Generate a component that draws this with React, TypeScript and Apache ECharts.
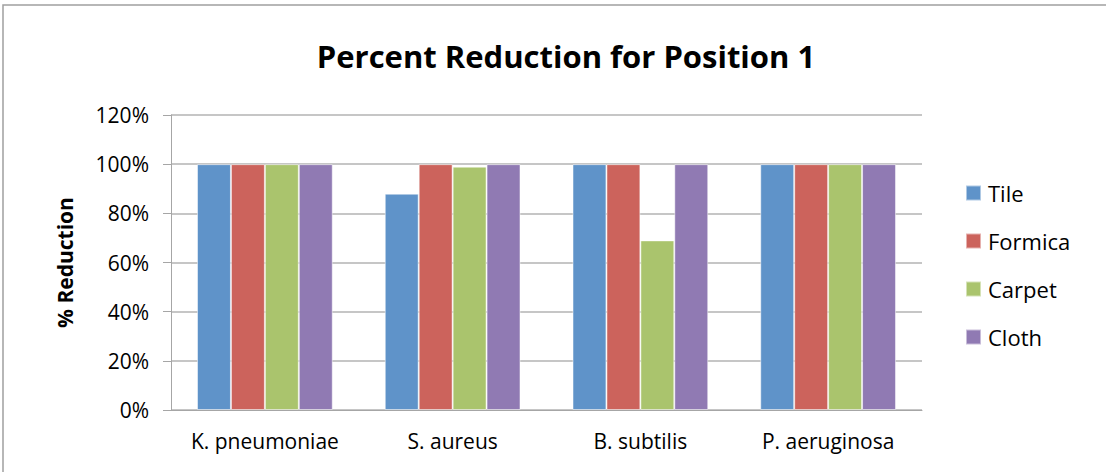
import React, { useEffect, useRef } from "react";
import * as echarts from "echarts";

const categories = ["K. pneumoniae", "S. aureus", "B. subtilis", "P. aeruginosa"];
const seriesNames = ["Tile", "Formica", "Carpet", "Cloth"];
const tileValues = [100, 88, 100, 100];
const formicaValues = [100, 100, 100, 100];
const carpetValues = [100, 99, 69, 100];
const clothValues = [100, 100, 100, 100];
const colors = ["#5f93c9", "#cc635c", "#aac46d", "#907ab3"];

export default function App() {
  const ref = useRef<HTMLDivElement>(null);
  useEffect(() => {
    const chart = echarts.init(ref.current!, null, { renderer: "svg" });
    const data = [tileValues, formicaValues, carpetValues, clothValues];
    chart.setOption({
      animation: false,
      backgroundColor: "#ffffff",
      textStyle: { fontFamily: "Open Sans" },
      title: {
        text: "Percent Reduction for Position 1",
        left: 561,
        top: 35,
        textAlign: "center",
        textStyle: { fontFamily: "Open Sans", fontWeight: "bold", fontSize: 31, color: "#000" },
      },
      graphic: [
        {
          type: "rect",
          shape: { x: 3, y: 5, width: 1200, height: 600 },
          style: { fill: "none", stroke: "#a0a0a0", lineWidth: 1.5 },
          silent: true,
        },
      ],
      legend: {
        orient: "vertical",
        left: 965,
        top: 182,
        padding: 0,
        itemWidth: 15,
        itemHeight: 15,
        itemGap: 26,
        icon: "rect",
        textStyle: { fontFamily: "Open Sans", fontSize: 22, lineHeight: 22, color: "#000", padding: [0, 0, 0, 2] },
        data: seriesNames,
      },
      grid: { left: 171, right: 1106 - 922, top: 115, bottom: 472 - 410, containLabel: false },
      xAxis: {
        type: "category",
        data: categories,
        axisLine: { show: true, lineStyle: { color: "#a6a6a6", width: 1 } },
        axisTick: { show: false },
        axisLabel: { fontFamily: "Open Sans", fontSize: 21, color: "#000", margin: 20, interval: 0 },
      },
      yAxis: {
        type: "value",
        min: 0,
        max: 120,
        interval: 20,
        name: "% Reduction",
        nameLocation: "middle",
        nameGap: 96,
        nameRotate: 90,
        nameTextStyle: { fontFamily: "Open Sans", fontWeight: "bold", fontSize: 21, color: "#000" },
        axisLine: { show: true, lineStyle: { color: "#a6a6a6", width: 1 } },
        axisTick: { show: true, length: 8, inside: false, lineStyle: { color: "#a6a6a6" } },
        splitLine: { show: true, lineStyle: { color: "#b3b3b3", width: 1.5 } },
        axisLabel: { fontFamily: "Open Sans", fontSize: 21, color: "#000", margin: 22, formatter: "{value}%" },
      },
      series: seriesNames.map((name, i) => ({
        name,
        type: "bar",
        data: data[i],
        barGap: "0%",
        barCategoryGap: "27.7%",
        itemStyle: { color: colors[i], borderColor: "rgba(255,255,255,0.5)", borderWidth: 1 },
      })),
    });
    return () => chart.dispose();
  }, []);
  return (
    <div
      ref={ref}
      style={{ position: "fixed", left: 0, top: 0, width: 1106, height: 472 }}
    />
  );
}
